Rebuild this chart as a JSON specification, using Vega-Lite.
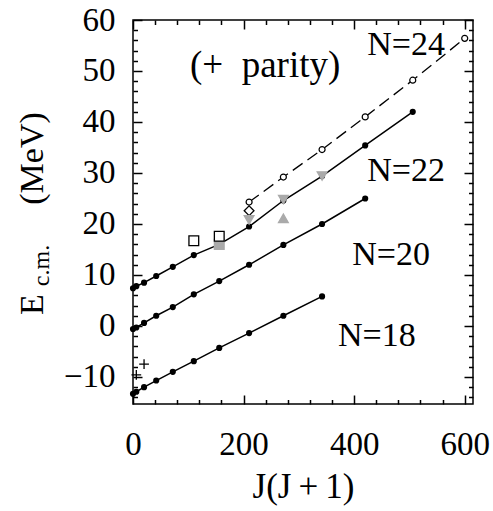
{
  "$schema": "https://vega.github.io/schema/vega-lite/v6.json",
  "width": 340,
  "height": 384,
  "autosize": {"type": "none"},
  "padding": {"left": 133, "top": 20, "right": 20, "bottom": 107},
  "background": "white",
  "config": {
    "view": {"stroke": "black", "strokeWidth": 1.5},
    "font": "Liberation Serif",
    "axis": {
      "domain": false,
      "grid": false,
      "tickColor": "black",
      "tickWidth": 1.5,
      "labelFont": "Liberation Serif",
      "labelFontSize": 33,
      "labelColor": "black",
      "labelFlush": false,
      "labelOverlap": false,
      "titleFont": "Liberation Serif",
      "titleFontWeight": "normal",
      "titleColor": "black",
      "titleFontSize": 34
    }
  },
  "datasets": {
    "calc": [
      {"N": 18, "jj": 0, "e": -13.3}, {"N": 18, "jj": 6, "e": -12.9}, {"N": 18, "jj": 20, "e": -12.0},
      {"N": 18, "jj": 42, "e": -10.7}, {"N": 18, "jj": 72, "e": -9.0}, {"N": 18, "jj": 110, "e": -6.9},
      {"N": 18, "jj": 156, "e": -4.3}, {"N": 18, "jj": 210, "e": -1.4}, {"N": 18, "jj": 272, "e": 2.0},
      {"N": 18, "jj": 342, "e": 5.8},
      {"N": 20, "jj": 0, "e": -0.6}, {"N": 20, "jj": 6, "e": -0.3}, {"N": 20, "jj": 20, "e": 0.6},
      {"N": 20, "jj": 42, "e": 2.0}, {"N": 20, "jj": 72, "e": 3.7}, {"N": 20, "jj": 110, "e": 6.2},
      {"N": 20, "jj": 156, "e": 8.8}, {"N": 20, "jj": 210, "e": 12.0}, {"N": 20, "jj": 272, "e": 15.9},
      {"N": 20, "jj": 342, "e": 20.0}, {"N": 20, "jj": 420, "e": 25.0},
      {"N": 22, "jj": 0, "e": 7.4}, {"N": 22, "jj": 6, "e": 7.8}, {"N": 22, "jj": 20, "e": 8.5},
      {"N": 22, "jj": 42, "e": 9.8}, {"N": 22, "jj": 72, "e": 11.6}, {"N": 22, "jj": 110, "e": 13.9},
      {"N": 22, "jj": 156, "e": 16.0}, {"N": 22, "jj": 210, "e": 19.5}, {"N": 22, "jj": 272, "e": 24.6},
      {"N": 22, "jj": 342, "e": 29.4}, {"N": 22, "jj": 420, "e": 35.4}, {"N": 22, "jj": 506, "e": 42.0},
      {"N": 24, "jj": 210, "e": 24.3}, {"N": 24, "jj": 272, "e": 29.2}, {"N": 24, "jj": 342, "e": 34.6},
      {"N": 24, "jj": 420, "e": 41.0}, {"N": 24, "jj": 506, "e": 48.2}, {"N": 24, "jj": 600, "e": 56.4}
    ],
    "other": [
      {"kind": "gray-square", "jj": 156, "e": 16.0},
      {"kind": "open-square", "jj": 110, "e": 16.7},
      {"kind": "open-square", "jj": 156, "e": 17.6},
      {"kind": "open-diamond", "jj": 210, "e": 22.6},
      {"kind": "gray-star", "jj": 210, "e": 20.8},
      {"kind": "gray-star", "jj": 272, "e": 24.8},
      {"kind": "gray-star", "jj": 342, "e": 29.4},
      {"kind": "gray-triangle", "jj": 272, "e": 21.1},
      {"kind": "plus", "jj": 6, "e": -9.6},
      {"kind": "plus", "jj": 20, "e": -7.5}
    ],
    "labels": [
      {"text": "N=24", "jj": 494, "e": 55.1},
      {"text": "N=22", "jj": 494, "e": 30.4},
      {"text": "N=20", "jj": 467, "e": 13.9},
      {"text": "N=18", "jj": 441, "e": -2.0}
    ],
    "note": [
      {"text": "(+\u00a0\u00a0parity)", "jj": 239, "e": 51.0}
    ]
  },
  "layer": [
    {
      "data": {"name": "calc"},
      "transform": [{"filter": "datum.N != 24"}],
      "mark": {"type": "line", "color": "black", "strokeWidth": 1.5},
      "encoding": {
        "x": {"field": "jj", "type": "quantitative", "scale": {"domain": [0, 615], "nice": false, "zero": false},
          "axis": {"orient": "bottom", "values": [0, 200, 400, 600], "tickSize": -9, "labelPadding": 33, "title": "J(J\u2009+\u20091)", "titleFontSize": 35, "titleY": 93, "titleBaseline": "alphabetic"}},
        "y": {"field": "e", "type": "quantitative", "scale": {"domain": [-15.3, 60], "nice": false, "zero": false},
          "axis": {"orient": "left", "values": [-10, 0, 10, 20, 30, 40, 50, 60], "tickSize": -9, "labelPadding": 27, "title": "E", "titleX": -91, "titleY": 284, "titleAlign": "center", "titleBaseline": "alphabetic", "titleAngle": -90}},
        "detail": {"field": "N"}
      }
    },
    {
      "data": {"name": "calc"},
      "transform": [{"filter": "datum.N == 24"}],
      "mark": {"type": "line", "color": "black", "strokeWidth": 1.3, "strokeDash": [12, 6]},
      "encoding": {
        "x": {"field": "jj", "type": "quantitative", "scale": {"domain": [0, 615], "nice": false, "zero": false}, "axis": null},
        "y": {"field": "e", "type": "quantitative", "scale": {"domain": [-15.3, 60], "nice": false, "zero": false}, "axis": null}
      }
    },
    {
      "data": {"name": "calc"},
      "transform": [{"filter": "datum.N != 24"}],
      "mark": {"type": "point", "shape": "circle", "filled": true, "size": 38, "color": "black", "opacity": 1},
      "encoding": {
        "x": {"field": "jj", "type": "quantitative", "scale": {"domain": [0, 615], "nice": false, "zero": false}, "axis": null},
        "y": {"field": "e", "type": "quantitative", "scale": {"domain": [-15.3, 60], "nice": false, "zero": false}, "axis": null}
      }
    },
    {
      "data": {"name": "calc"},
      "transform": [{"filter": "datum.N == 24"}],
      "mark": {"type": "point", "shape": "circle", "filled": false, "fill": "white", "fillOpacity": 1, "size": 36, "stroke": "black", "strokeWidth": 1.2, "opacity": 1},
      "encoding": {
        "x": {"field": "jj", "type": "quantitative", "scale": {"domain": [0, 615], "nice": false, "zero": false}, "axis": null},
        "y": {"field": "e", "type": "quantitative", "scale": {"domain": [-15.3, 60], "nice": false, "zero": false}, "axis": null}
      }
    },
    {
      "data": {"name": "other"},
      "mark": {"type": "point", "filled": true, "size": 95, "strokeWidth": 1.3, "opacity": 1, "fillOpacity": 1},
      "encoding": {
        "x": {"field": "jj", "type": "quantitative", "scale": {"domain": [0, 615], "nice": false, "zero": false}, "axis": null},
        "y": {"field": "e", "type": "quantitative", "scale": {"domain": [-15.3, 60], "nice": false, "zero": false}, "axis": null},
        "shape": {"field": "kind", "type": "nominal", "legend": null,
          "scale": {"domain": ["open-square", "gray-square", "open-diamond", "gray-star", "gray-triangle", "plus"],
                    "range": ["square", "square", "diamond", "triangle-down", "triangle-up", "M-1,0L1,0M0,-1L0,1"]}},
        "fill": {"field": "kind", "type": "nominal", "legend": null,
          "scale": {"domain": ["open-square", "gray-square", "open-diamond", "gray-star", "gray-triangle", "plus"],
                    "range": ["white", "#aaaaaa", "white", "#aaaaaa", "#aaaaaa", "transparent"]}},
        "stroke": {"field": "kind", "type": "nominal", "legend": null,
          "scale": {"domain": ["open-square", "gray-square", "open-diamond", "gray-star", "gray-triangle", "plus"],
                    "range": ["black", "#aaaaaa", "black", "#aaaaaa", "#aaaaaa", "black"]}}
      }
    },
    {
      "data": {"name": "labels"},
      "mark": {"type": "text", "font": "Liberation Serif", "fontSize": 34, "align": "center", "baseline": "middle", "color": "black"},
      "encoding": {
        "x": {"field": "jj", "type": "quantitative", "scale": {"domain": [0, 615], "nice": false, "zero": false}, "axis": null},
        "y": {"field": "e", "type": "quantitative", "scale": {"domain": [-15.3, 60], "nice": false, "zero": false}, "axis": null},
        "text": {"field": "text"}
      }
    },
    {
      "data": {"name": "note"},
      "mark": {"type": "text", "font": "Liberation Serif", "fontSize": 37, "align": "center", "baseline": "middle", "color": "black"},
      "encoding": {
        "x": {"field": "jj", "type": "quantitative", "scale": {"domain": [0, 615], "nice": false, "zero": false}, "axis": null},
        "y": {"field": "e", "type": "quantitative", "scale": {"domain": [-15.3, 60], "nice": false, "zero": false}, "axis": null},
        "text": {"field": "text"}
      }
    },
    {
      "data": {"name": "calc"},
      "mark": {"type": "point", "opacity": 0},
      "encoding": {
        "x": {"field": "jj", "type": "quantitative", "scale": {"domain": [0, 615], "nice": false, "zero": false},
          "axis": {"orient": "bottom", "values": [40, 80, 120, 160, 240, 280, 320, 360, 440, 480, 520, 560], "tickSize": -4.5, "labels": false, "title": null}},
        "y": {"field": "e", "type": "quantitative", "scale": {"domain": [-15.3, 60], "nice": false, "zero": false},
          "axis": {"orient": "left", "values": [-14, -12, -8, -6, -4, -2, 2, 4, 6, 8, 12, 14, 16, 18, 22, 24, 26, 28, 32, 34, 36, 38, 42, 44, 46, 48, 52, 54, 56, 58], "tickSize": -4.5, "labels": false, "title": null}}
      }
    },
    {
      "data": {"name": "calc"},
      "mark": {"type": "point", "opacity": 0},
      "encoding": {
        "x": {"field": "jj", "type": "quantitative", "scale": {"domain": [0, 615], "nice": false, "zero": false},
          "axis": {"orient": "top", "values": [0, 200, 400, 600], "tickSize": -9, "labels": false, "title": null}},
        "y": {"field": "e", "type": "quantitative", "scale": {"domain": [-15.3, 60], "nice": false, "zero": false},
          "axis": {"orient": "right", "values": [-10, 0, 10, 20, 30, 40, 50, 60], "tickSize": -9, "labels": false, "title": null}}
      }
    },
    {
      "data": {"name": "calc"},
      "mark": {"type": "point", "opacity": 0},
      "encoding": {
        "x": {"field": "jj", "type": "quantitative", "scale": {"domain": [0, 615], "nice": false, "zero": false},
          "axis": {"orient": "top", "values": [40, 80, 120, 160, 240, 280, 320, 360, 440, 480, 520, 560], "tickSize": -4.5, "labels": false, "title": null}},
        "y": {"field": "e", "type": "quantitative", "scale": {"domain": [-15.3, 60], "nice": false, "zero": false},
          "axis": {"orient": "right", "values": [-14, -12, -8, -6, -4, -2, 2, 4, 6, 8, 12, 14, 16, 18, 22, 24, 26, 28, 32, 34, 36, 38, 42, 44, 46, 48, 52, 54, 56, 58], "tickSize": -4.5, "labels": false, "title": null}}
      }
    },
    {
      "data": {"name": "calc"},
      "mark": {"type": "point", "opacity": 0},
      "encoding": {
        "x": {"field": "jj", "type": "quantitative", "scale": {"domain": [0, 615], "nice": false, "zero": false}, "axis": null},
        "y": {"field": "e", "type": "quantitative", "scale": {"domain": [-15.3, 60], "nice": false, "zero": false},
          "axis": {"orient": "left", "ticks": false, "labels": false, "title": "c.m.", "titleFontSize": 24, "titleX": -85, "titleY": 245, "titleAlign": "center", "titleBaseline": "alphabetic", "titleAngle": -90}}
      }
    },
    {
      "data": {"name": "calc"},
      "mark": {"type": "point", "opacity": 0},
      "encoding": {
        "x": {"field": "jj", "type": "quantitative", "scale": {"domain": [0, 615], "nice": false, "zero": false}, "axis": null},
        "y": {"field": "e", "type": "quantitative", "scale": {"domain": [-15.3, 60], "nice": false, "zero": false},
          "axis": {"orient": "left", "ticks": false, "labels": false, "title": "(MeV)", "titleX": -91, "titleY": 138, "titleAlign": "center", "titleBaseline": "alphabetic", "titleAngle": -90}}
      }
    }
  ],
  "resolve": {"axis": {"x": "independent", "y": "independent"}}
}
